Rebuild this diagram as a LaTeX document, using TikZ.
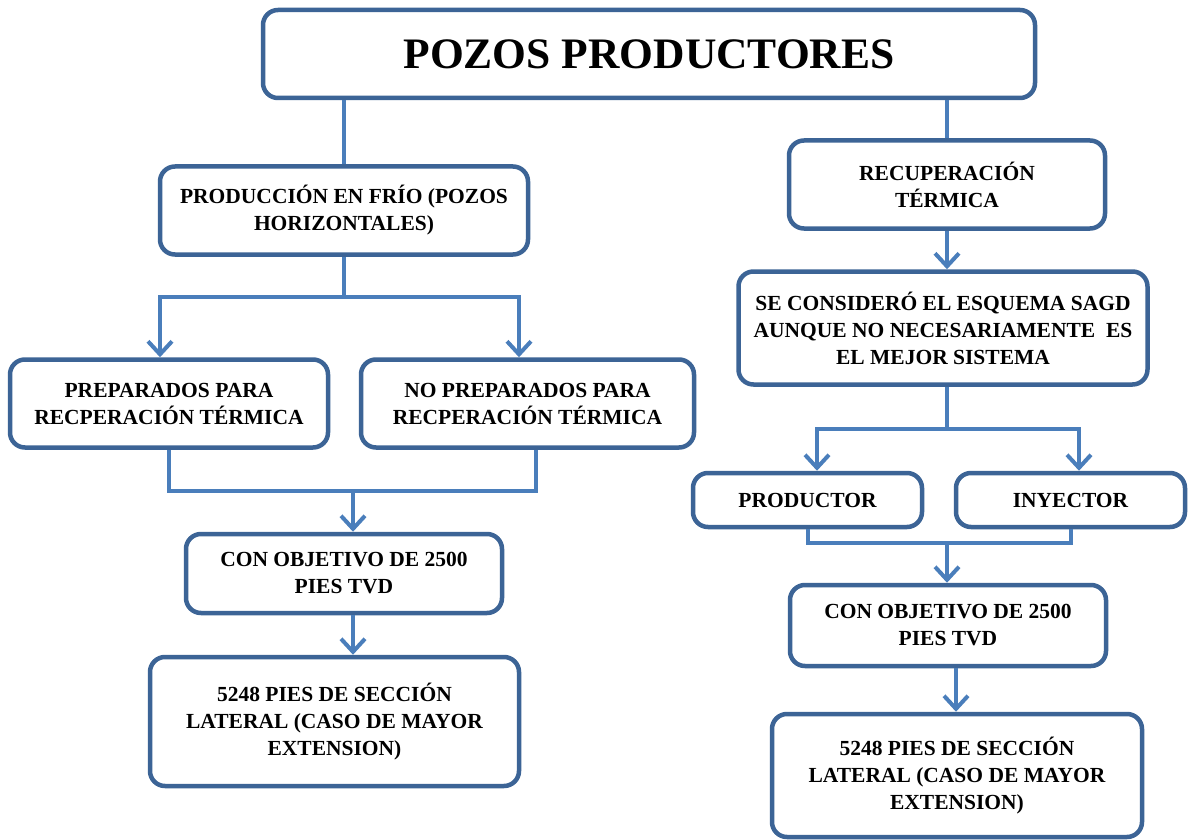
\documentclass[tikz,border=0pt]{standalone}
\usepackage{fontspec}
\setmainfont{Liberation Serif}
\usetikzlibrary{arrows.meta}
\definecolor{boxline}{HTML}{3C6496}
\definecolor{linkblue}{HTML}{4A7EBB}
\tikzset{
  box/.style={draw=boxline, line width=4.5pt, rounded corners=15pt, fill=white,
    align=center, inner sep=0pt, font=\fontsize{21.5}{27}\selectfont\bfseries},
  link/.style={draw=linkblue, line width=4pt},
  arr/.style={link, -{Straight Barb[length=13pt,width=24pt]}},
}
\begin{document}
\begin{tikzpicture}[x=1pt,y=-1pt]
\useasboundingbox[fill=white] (0,0) rectangle (1189,840);

% boxes
\node[box, minimum width=772pt, minimum height=88pt, font=\fontsize{43.5}{50}\selectfont\bfseries]
  (title) at (649,54) {POZOS PRODUCTORES};
\node[box, minimum width=368pt, minimum height=88pt] (frio) at (344,210.5)
  {PRODUCCIÓN EN FRÍO (POZOS\\HORIZONTALES)};
\node[box, minimum width=316pt, minimum height=88pt] (recup) at (947,184.5)
  {RECUPERACIÓN\\TÉRMICA};
\node[box, minimum width=409pt, minimum height=113pt] (sagd) at (943,328)
  {SE CONSIDERÓ EL ESQUEMA SAGD\\AUNQUE NO NECESARIAMENTE\ \ ES\\EL MEJOR SISTEMA};
\node[box, minimum width=318pt, minimum height=88pt] (prep) at (169,403.5)
  {PREPARADOS PARA\\RECPERACIÓN TÉRMICA};
\node[box, minimum width=333pt, minimum height=88pt] (noprep) at (527.5,403.5)
  {NO PREPARADOS PARA\\RECPERACIÓN TÉRMICA};
\node[box, minimum width=229pt, minimum height=54pt] (prod) at (807.5,500)
  {PRODUCTOR};
\node[box, minimum width=229pt, minimum height=54pt] (iny) at (1070.5,500)
  {INYECTOR};
\node[box, minimum width=316pt, minimum height=79pt] (obj1) at (344,573.5)
  {CON OBJETIVO DE 2500\\PIES TVD};
\node[box, minimum width=369pt, minimum height=129pt] (lat1) at (334.5,721.5)
  {5248 PIES DE SECCIÓN\\LATERAL (CASO DE MAYOR\\EXTENSION)};
\node[box, minimum width=316pt, minimum height=81pt] (obj2) at (948,625.5)
  {CON OBJETIVO DE 2500\\PIES TVD};
\node[box, minimum width=370pt, minimum height=123pt] (lat2) at (957,775.5)
  {5248 PIES DE SECCIÓN\\LATERAL (CASO DE MAYOR\\EXTENSION)};

% left branch
\draw[link] (frio.north) -- (frio.north |- title.south);
\coordinate (fj) at (344,297);
\draw[link] (frio.south) -- (fj);
\draw[arr] (fj) -| ([xshift=-9pt]prep.north);
\draw[arr] (fj) -| ([xshift=-8.5pt]noprep.north);
\coordinate (pj) at (353,491);
\draw[link] (prep.south) |- (pj) -| ([xshift=8.5pt]noprep.south);
\draw[arr] (pj) -- (pj |- obj1.north);
\draw[arr] ([xshift=9pt]obj1.south) -- ([xshift=9pt]obj1.south |- lat1.north);

% right branch
\draw[link] (recup.north) -- (recup.north |- title.south);
\draw[arr] (recup.south) -- (recup.south |- sagd.north);
\coordinate (sj) at (947,429);
\draw[link] (sagd.south -| sj) -- (sj);
\draw[arr] (sj) -| ([xshift=9.5pt]prod.north);
\draw[arr] (sj) -| ([xshift=8.5pt]iny.north);
\coordinate (rj) at (947,543);
\draw[link] (prod.south) |- (rj) -| (iny.south);
\draw[arr] (rj) -- (rj |- obj2.north);
\draw[arr] ([xshift=8pt]obj2.south) -- ([xshift=8pt]obj2.south |- lat2.north);
\end{tikzpicture}
\end{document}
